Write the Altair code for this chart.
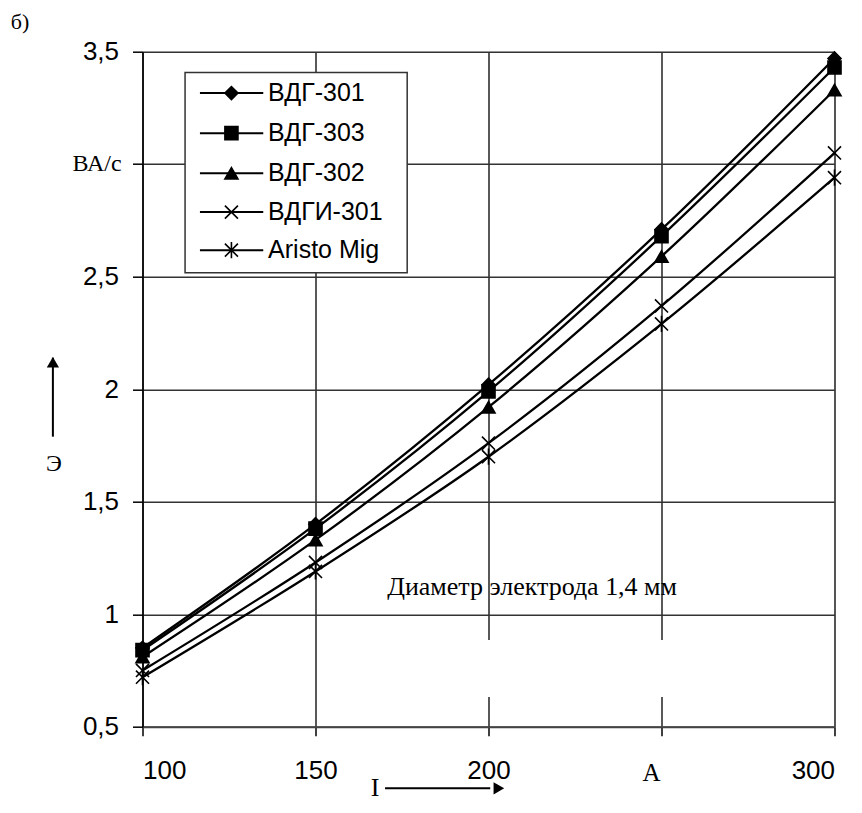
import altair as alt
import pandas as pd

# ---- data ----
currents = [100, 150, 200, 250, 300]
series_names = ["ВДГ-301", "ВДГ-303", "ВДГ-302", "ВДГИ-301", "Aristo Mig"]
vdg301 = [0.85, 1.40, 2.02, 2.71, 3.47]
vdg303 = [0.84, 1.38, 1.99, 2.68, 3.43]
vdg302 = [0.81, 1.33, 1.92, 2.59, 3.33]
vdgi301 = [0.75, 1.23, 1.76, 2.37, 3.05]
aristo = [0.72, 1.19, 1.70, 2.29, 2.94]
x_ticks = [100, 150, 200, 250, 300]
y_ticks = [0.5, 1.0, 1.5, 2.0, 2.5, 3.0, 3.5]

shape_x = "M-1,-1L1,1M1,-1L-1,1"
shape_ast = "M-1,-1L1,1M1,-1L-1,1M0,-1.25L0,1.25"
shape_range = ["diamond", "square", "triangle-up", shape_x, shape_ast]

rows = []
for name, vals in zip(series_names, [vdg301, vdg303, vdg302, vdgi301, aristo]):
    for c, v in zip(currents, vals):
        rows.append({"I": c, "E": v, "series": name})
df = pd.DataFrame(rows)

# legend (drawn inside the plot, in data coordinates)
legend_rows = [3.316, 3.138, 2.96, 2.787, 2.618]
leg = pd.DataFrame({
    "series": series_names,
    "E": legend_rows,
    "I": [116.6] * 5,
    "I2": [134.9] * 5,
    "Im": [125.7] * 5,
    "It": [136.3] * 5,
})
leg_box = pd.DataFrame({"I": [112.3], "I2": [176.5], "E": [2.518], "E2": [3.408]})
# white (borderless) text box of the note, hiding part of the grid
note_box = pd.DataFrame({"I": [166.4], "I2": [258.4], "E": [0.632], "E2": [0.885]})

serif = "Liberation Serif"
sans = "Liberation Sans"

x_axis = alt.Axis(values=x_ticks, title=None,
                  labelExpr="datum.value == 250 ? '' : datum.label",
                  labelFont=sans, labelFontSize=26, labelColor="black",
                  tickColor="black", tickSize=9, tickWidth=1.5,
                  domainColor="#444", domainWidth=2,
                  gridColor="#222", gridWidth=1.5, labelPadding=22)
y_axis = alt.Axis(values=y_ticks, title=None,
                  labelExpr="datum.value == 3 ? '' : replace(format(datum.value, '.1~f'), '.', ',')",
                  labelFont=sans, labelFontSize=26, labelColor="black",
                  tickColor="black", tickSize=10, tickWidth=1.5,
                  domainColor="black", domainWidth=1.5,
                  gridColor="#333", gridWidth=1.5, labelPadding=14)
xs = alt.Scale(domain=[100, 300], nice=False, zero=False)
ys = alt.Scale(domain=[0.5, 3.5], nice=False, zero=False)


def X(f):
    return alt.X(f"{f}:Q", scale=xs, axis=x_axis)


def Y(f):
    return alt.Y(f"{f}:Q", scale=ys, axis=y_axis)


shape_enc = alt.Shape("series:N", scale=alt.Scale(domain=series_names, range=shape_range), legend=None)

note_rect = alt.Chart(note_box).mark_rect(fill="white", strokeWidth=0).encode(
    x=X("I"), x2="I2:Q", y=Y("E"), y2="E2:Q")

base = alt.Chart(df)
lines = base.mark_line(color="black", strokeWidth=2.3, interpolate="monotone", clip=False).encode(
    x=X("I"), y=Y("E"), detail="series:N")
points = base.mark_point(filled=True, fill="black", stroke="black", strokeWidth=1.6, opacity=1,
                         size=170, clip=False).encode(x=X("I"), y=Y("E"), shape=shape_enc)

box = alt.Chart(leg_box).mark_rect(fill="white", stroke="#333", strokeWidth=1.5).encode(
    x=X("I"), x2="I2:Q", y=Y("E"), y2="E2:Q")
leg_lines = alt.Chart(leg).mark_rule(color="black", strokeWidth=2).encode(
    x=X("I"), x2="I2:Q", y=Y("E"))
leg_pts = alt.Chart(leg).mark_point(filled=True, fill="black", stroke="black", strokeWidth=1.6,
                                    opacity=1, size=170).encode(x=X("Im"), y=Y("E"), shape=shape_enc)
leg_txt = alt.Chart(leg).mark_text(align="left", baseline="middle", font=sans, fontSize=25,
                                   color="black").encode(x=X("It"), y=Y("E"), text="series:N")

# annotations
ann = pd.DataFrame({
    "I": [64.6, 93.98, 74.4, 167.2, 247.1, 212.6],
    "E": [3.632, 3.0, 1.667, 0.226, 0.294, 1.121],
    "txt": ["б)", "ВА/с", "Э", "I", "А", "Диаметр электрода 1,4 мм"],
    "al": ["center", "right", "center", "center", "center", "center"],
    "fs": [22, 24, 24, 26, 25, 26],
})
ann_c = alt.Chart(ann[ann.al == "center"]).mark_text(
    align="center", baseline="middle", font=serif, color="black").encode(
    x=X("I"), y=Y("E"), text="txt:N", size=alt.Size("fs:Q", scale=None, legend=None))
ann_r = alt.Chart(ann[ann.al == "right"]).mark_text(
    align="right", baseline="middle", font=serif, color="black").encode(
    x=X("I"), y=Y("E"), text="txt:N", size=alt.Size("fs:Q", scale=None, legend=None))

# arrows next to the axis symbols
v_arrow = pd.DataFrame({"I": [74.1], "E": [1.789], "E2": [2.14]})
h_arrow = pd.DataFrame({"I": [170.1], "I2": [200.5], "E": [0.226]})
heads = pd.DataFrame({"I": [74.1, 203.0], "E": [2.12, 0.226], "dir": ["up", "right"]})
v_rule = alt.Chart(v_arrow).mark_rule(color="black", strokeWidth=2).encode(
    x=X("I"), y=Y("E"), y2="E2:Q")
h_rule = alt.Chart(h_arrow).mark_rule(color="black", strokeWidth=2).encode(
    x=X("I"), x2="I2:Q", y=Y("E"))
head_pts = alt.Chart(heads).mark_point(filled=True, fill="black", opacity=1, size=150).encode(
    x=X("I"), y=Y("E"),
    shape=alt.Shape("dir:N", scale=alt.Scale(domain=["up", "right"],
                                             range=["triangle-up", "triangle-right"]), legend=None))

chart = alt.layer(note_rect, lines, points, box, leg_lines, leg_pts, leg_txt, ann_c, ann_r,
                  v_rule, h_rule, head_pts).resolve_scale(shape="independent").properties(
    width=692, height=675,
    autosize=alt.AutoSizeParams(type="none"),
    padding={"left": 134.5, "top": 43.7, "right": 15, "bottom": 78},
).configure_view(stroke="#888", strokeWidth=2).configure(background="white")

chart.save("out.html", embed_options={"renderer": "svg", "actions": False})
